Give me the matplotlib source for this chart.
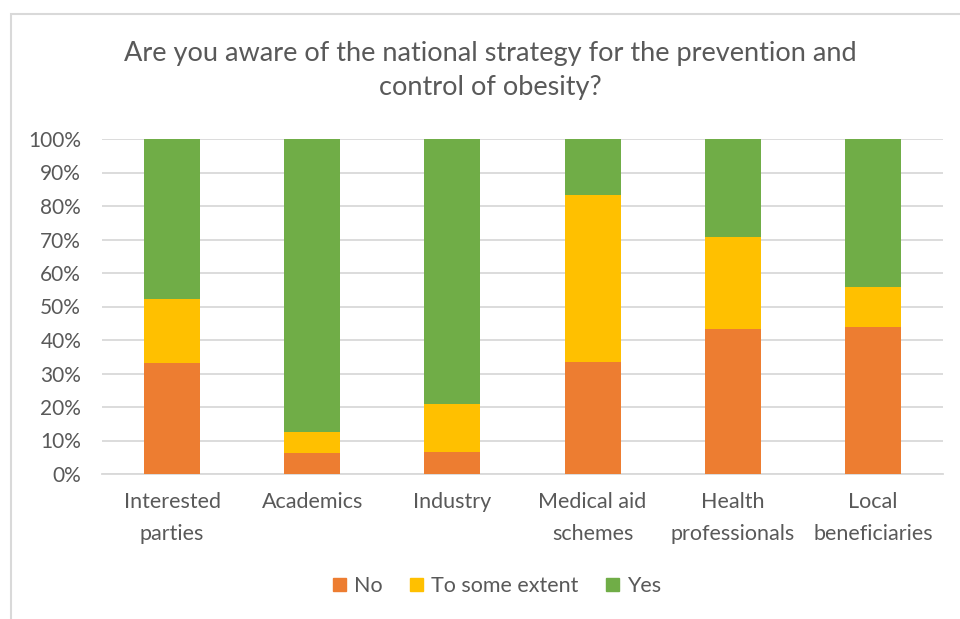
import matplotlib
matplotlib.use("Agg")
import matplotlib.pyplot as plt
import matplotlib.patches as mpatches
import numpy as np

categories = ["Interested\nparties", "Academics", "Industry", "Medical aid\nschemes",
              "Health\nprofessionals", "Local\nbeneficiaries"]
no_vals = [33.0, 6.25, 6.7, 33.3, 43.2, 43.9]
some_vals = [19.1, 6.25, 14.3, 50.0, 27.5, 11.8]
yes_vals = [47.9, 87.5, 79.0, 16.7, 29.3, 44.3]
series_names = ["No", "To some extent", "Yes"]
colors = ["#ED7D31", "#FFC000", "#70AD47"]
yticks = [0, 10, 20, 30, 40, 50, 60, 70, 80, 90, 100]
title = "Are you aware of the national strategy for the prevention and\ncontrol of obesity?"

plt.rcParams['font.family'] = ['Lato', 'DejaVu Sans']
text_color = "#595959"

fig = plt.figure(figsize=(9.6, 6.19), dpi=100)
ax = fig.add_axes([102/960, 1-474/619, (943-102)/960, (474-139)/619])

x = np.arange(len(categories))
w = 0.4
bottom = np.zeros(len(categories))
for vals, name, c in zip([no_vals, some_vals, yes_vals], series_names, colors):
    ax.bar(x, vals, w, bottom=bottom, color=c, label=name, zorder=3)
    bottom = bottom + np.array(vals)

ax.set_xlim(-0.5, len(categories) - 0.5)
ax.set_ylim(0, 100)
ax.set_yticks(yticks)
ax.set_yticklabels([f"{t}%" for t in yticks])
ax.set_xticks(x)
ax.set_xticklabels(categories, linespacing=1.75)
ax.tick_params(axis='y', length=0, pad=15, labelsize=15, labelcolor=text_color)
ax.tick_params(axis='x', length=0, pad=13, labelsize=15.5, labelcolor=text_color)
ax.grid(axis='y', color="#D9D9D9", linewidth=1.3, zorder=0)
for s in ["top", "right", "left"]:
    ax.spines[s].set_visible(False)
ax.spines["bottom"].set_color("#D9D9D9")
ax.spines["bottom"].set_linewidth(1.3)

fig.text(490/960, 1-70/619, title, ha='center', va='center', fontsize=19.5,
         color=text_color, linespacing=1.45)

handles = [mpatches.Patch(color=c) for c in colors]
fig.legend(handles, series_names, loc='center', bbox_to_anchor=(497/960, 1-586/619),
           ncol=3, frameon=False, fontsize=15.5, labelcolor=text_color,
           handlelength=0.6, handleheight=0.6, handletextpad=0.35, columnspacing=1.3)

border = mpatches.Rectangle((11/960, -0.1), 1.2, (619-14)/619 + 0.1, transform=fig.transFigure,
                            fill=False, edgecolor="#D9D9D9", linewidth=1.5)
fig.add_artist(border)

fig.savefig("out.png", dpi=100, facecolor="white")
